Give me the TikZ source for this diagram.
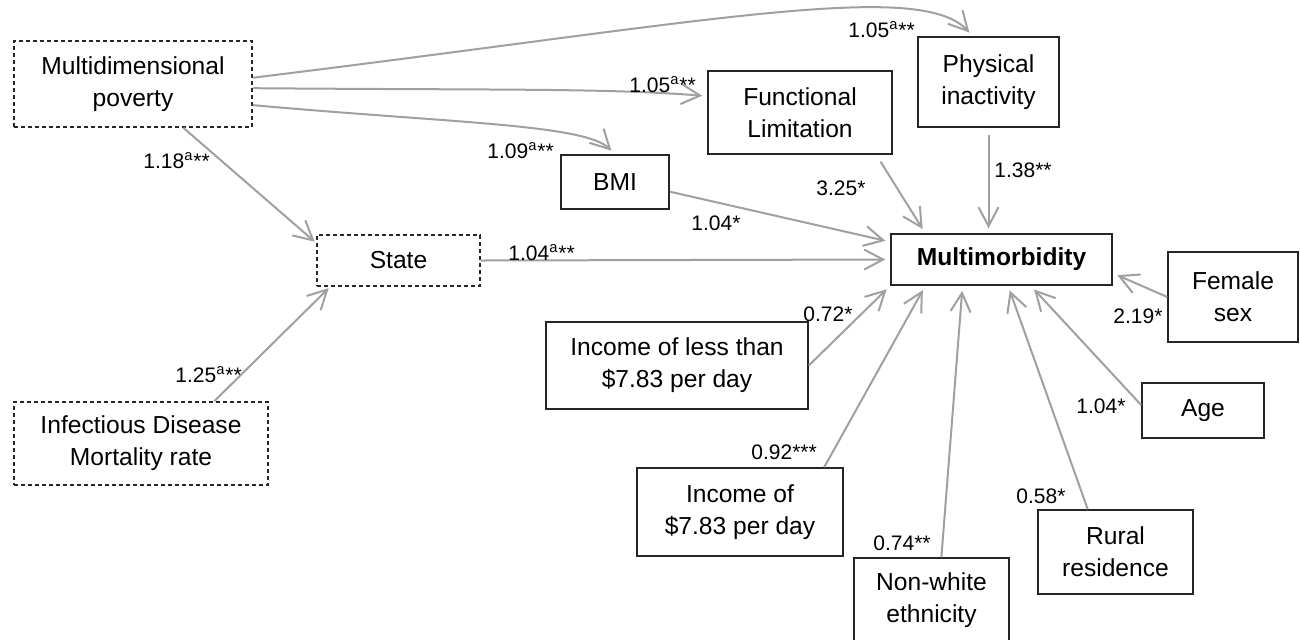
\documentclass[tikz,border=0pt]{standalone}
\usepackage{fontspec}
\setmainfont{Liberation Sans}
\usetikzlibrary{arrows.meta}
\definecolor{arrowgray}{RGB}{160,160,160}

\begin{document}
\begin{tikzpicture}[x=0.5pt,y=-0.5pt,
    obs/.style={draw=black!85,line width=0.75pt,align=center,inner sep=0pt,
      font=\fontsize{12.3}{16}\selectfont},
    lat/.style={obs,dash pattern=on 2pt off 1.5pt},
    eff/.style={draw=arrowgray,line width=1pt,shorten >=2.5pt,
      -{Straight Barb[length=9.5pt,width=10pt]}},
    coef/.style={anchor=base west,inner sep=0pt,font=\fontsize{10.5}{12}\selectfont}]
    \useasboundingbox (0,0) rectangle (1300,639); % page size of the figure

    % latent (dashed) boxes
    \node[lat,minimum width=119pt,minimum height=43pt] (mpov) at (133,84) {Multidimensional\\poverty};
    \node[lat,minimum width=81.5pt,minimum height=25.5pt] (state) at (398.5,260.5) {State};
    \node[lat,minimum width=127pt,minimum height=41.5pt] (idmr) at (141,443.5) {Infectious Disease\\Mortality rate};

    % observed boxes
    \node[obs,minimum width=54pt,minimum height=27pt] (bmi) at (615,182) {BMI};
    \node[obs,minimum width=92pt,minimum height=41.5pt] (flim) at (800,112.5) {Functional\\Limitation};
    \node[obs,minimum width=70.5pt,minimum height=45pt] (pinact) at (988.5,82) {Physical\\inactivity};
    \node[obs,minimum width=110.5pt,minimum height=25.5pt] (mmorb) at (1001.5,259.5) {\bfseries Multimorbidity};
    \node[obs,minimum width=65pt,minimum height=45pt] (fsex) at (1233,297) {Female\\sex};
    \node[obs,minimum width=61pt,minimum height=27.5pt] (age) at (1203,410.5) {Age};
    \node[obs,minimum width=77.5pt,minimum height=42pt] (rural) at (1115.5,552) {Rural\\residence};
    \node[obs,minimum width=77.5pt,minimum height=42pt] (nonwhite) at (931.5,600) {Non-white\\ethnicity};
    \node[obs,minimum width=103pt,minimum height=44pt] (inc) at (740,512) {Income of\\\$7.83 per day};
    \node[obs,minimum width=131pt,minimum height=43.5pt] (incless) at (677,365.5) {Income of less than\\\$7.83 per day};

    % paths out of poverty and mortality
    \draw[eff] (mpov.3) .. controls +(450,-55) and +(-53,-58) .. (pinact.109);
    \draw[eff] (mpov.-2) .. controls +(250,2) and +(-100,-8) .. (flim.170);
    \draw[eff] (mpov.-10) .. controls +(200,18) and +(-30,-30) .. (bmi.north);
    \draw[eff,shorten >=1pt] (mpov.-41) -- (state.168);
    \draw[eff,shorten >=1pt] (idmr.30) -- (state.-159);

    % paths into multimorbidity
    \foreach \a/\b in {state.east/mmorb.west, bmi.-10/mmorb.171, fsex.west/mmorb.-7,
        age.175/mmorb.-42, rural.123/mmorb.-76, nonwhite.77/mmorb.-146,
        inc.28/mmorb.-161, incless.east/mmorb.south west}
        \draw[eff] (\a) -- (\b);
    \draw[eff,shorten <=4pt] (flim.-29) -- (mmorb.161);
    \draw[eff,shorten <=3.5pt] (pinact.south) -- (pinact.south |- mmorb.north);

    % coefficients
    \foreach \x/\y/\t [count=\i] in {848/37/{1.05\textsuperscript{a}**}, 629/92/{1.05\textsuperscript{a}**},
        487/158/{1.09\textsuperscript{a}**}, 143/168/{1.18\textsuperscript{a}**},
        175/382/{1.25\textsuperscript{a}**}, 508/260/{1.04\textsuperscript{a}**},
        691/230/{1.04*}, 816/195/{3.25*}, 994/177/{1.38**}, 1113/323/{2.19*},
        1076/413/{1.04*}, 1016/503/{0.58*}, 873/550/{0.74**}, 751/459/{0.92***},
        803/321/{0.72*}}
        \node[coef] (c\i) at (\x,\y) {\t};
\end{tikzpicture}
\end{document}
